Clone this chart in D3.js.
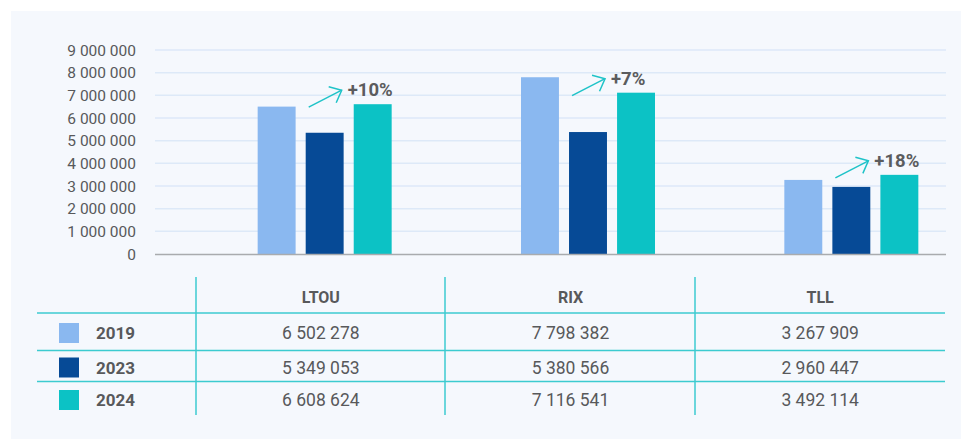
<!DOCTYPE html>
<html>
<head>
<meta charset="utf-8">
<script src="https://cdn.jsdelivr.net/npm/d3@7"></script>
<style>
  html, body { margin: 0; padding: 0; background: #fff; }
  svg { display: block; font-family: Roboto, "Noto Sans", sans-serif; }
</style>
</head>
<body>
<div id="chart"></div>
<script>
// dati
const airports = ["LTOU", "RIX", "TLL"];
const years = ["2019", "2023", "2024"];
const values2019 = [6502278, 7798382, 3267909];
const values2023 = [5349053, 5380566, 2960447];
const values2024 = [6608624, 7116541, 3492114];
const growth = ["+10%", "+7%", "+18%"];
const yTicks = [0, 1e6, 2e6, 3e6, 4e6, 5e6, 6e6, 7e6, 8e6, 9e6];
const colors = ["#8ab8f0", "#064a96", "#0cc2c5"];

const series = [values2019, values2023, values2024];
const fmt = v => d3.format(",")(v).replace(/,/g, " ");

const width = 961, height = 439;
const svg = d3.select("#chart").append("svg")
  .attr("width", width).attr("height", height);

// pannello di sfondo
svg.append("rect")
  .attr("x", 11).attr("y", 11)
  .attr("width", width - 11).attr("height", height - 11)
  .attr("fill", "#f5f8fd");

const y = d3.scaleLinear().domain([0, 9e6]).range([254, 50]);
const x0 = d3.scaleBand().domain(airports).range([193, 983]);
const x1 = d3.scaleBand().domain(years).range([0, 134]).paddingInner(0.21);

// griglia
svg.append("g").selectAll("line")
  .data(yTicks.filter(t => t > 0))
  .enter().append("line")
  .attr("x1", 155).attr("x2", 946)
  .attr("y1", d => y(d)).attr("y2", d => y(d))
  .attr("stroke", "#dde9f8").attr("stroke-width", 1.5);

// etichette asse y
svg.append("g").selectAll("text")
  .data(yTicks)
  .enter().append("text")
  .attr("x", 136).attr("y", d => y(d))
  .attr("dy", "0.36em")
  .attr("text-anchor", "end")
  .attr("font-size", 15.5)
  .attr("fill", "#58595b")
  .text(d => fmt(d));

// barre
const groups = svg.append("g").selectAll("g")
  .data(airports)
  .enter().append("g")
  .attr("transform", d => `translate(${x0(d) + (x0.bandwidth() - 134) / 2},0)`);

groups.selectAll("rect")
  .data((a, i) => years.map((yr, k) => ({ yr, k, v: series[k][i] })))
  .enter().append("rect")
  .attr("x", d => x1(d.yr))
  .attr("y", d => y(d.v))
  .attr("width", x1.bandwidth())
  .attr("height", d => y(0) - y(d.v))
  .attr("fill", d => colors[d.k]);

// linea di base
svg.append("line")
  .attr("x1", 155).attr("x2", 946)
  .attr("y1", 254.5).attr("y2", 254.5)
  .attr("stroke", "#a9abae").attr("stroke-width", 1.5);

// frecce di crescita
groups.each(function (a, i) {
  const g = d3.select(this);
  const sx = x1("2023") + 3;
  const sy = y(values2024[i]) + 3;
  const ex = sx + 33, ey = sy - 17;
  const arrow = "#1fc3c8";
  g.append("line").attr("x1", sx).attr("y1", sy).attr("x2", ex).attr("y2", ey)
    .attr("stroke", arrow).attr("stroke-width", 1.5);
  g.append("path")
    .attr("d", `M${ex - 13},${ey - 3.5} L${ex},${ey} L${ex - 5.5},${ey + 12.5}`)
    .attr("fill", "none").attr("stroke", arrow).attr("stroke-width", 1.5);
  g.append("text")
    .attr("x", ex + 6).attr("y", ey + 6)
    .attr("font-size", 18.5).attr("font-weight", "bold")
    .attr("fill", "#5b5c5e")
    .text(growth[i]);
});

// tabella
const cols = d3.scaleBand().domain(airports).range([196, 945]);
const rowY = [333, 367.5, 400];
const lineColor = "#3ccbd0";

svg.append("g").selectAll("line")
  .data([196, 445, 695])
  .enter().append("line")
  .attr("x1", d => d).attr("x2", d => d)
  .attr("y1", 277).attr("y2", 415)
  .attr("stroke", lineColor).attr("stroke-width", 1.5);

svg.append("g").selectAll("line")
  .data([313, 350.5, 381.5])
  .enter().append("line")
  .attr("x1", 37).attr("x2", 945)
  .attr("y1", d => d).attr("y2", d => d)
  .attr("stroke", lineColor).attr("stroke-width", 1.5);

svg.append("g").selectAll("text")
  .data(airports)
  .enter().append("text")
  .attr("x", d => cols(d) + cols.bandwidth() / 2)
  .attr("y", 297).attr("dy", "0.36em")
  .attr("text-anchor", "middle")
  .attr("font-size", 16).attr("font-weight", "bold")
  .attr("fill", "#58595b")
  .text(d => d);

const rows = svg.append("g").selectAll("g")
  .data(years)
  .enter().append("g")
  .attr("transform", (d, k) => `translate(0,${rowY[k]})`);

rows.append("rect")
  .attr("x", 59).attr("y", -10)
  .attr("width", 20).attr("height", 20)
  .attr("fill", (d, k) => colors[k]);

rows.append("text")
  .attr("x", 96).attr("dy", "0.36em")
  .attr("font-size", 17).attr("font-weight", "bold")
  .attr("fill", "#58595b")
  .text(d => d);

rows.each(function (yr, k) {
  d3.select(this).selectAll("text.val")
    .data(airports)
    .enter().append("text")
    .attr("class", "val")
    .attr("x", d => cols(d) + cols.bandwidth() / 2)
    .attr("dy", "0.36em")
    .attr("text-anchor", "middle")
    .attr("font-size", 17.5)
    .attr("fill", "#58595b")
    .text((d, i) => fmt(series[k][i]));
});
</script>
</body>
</html>
